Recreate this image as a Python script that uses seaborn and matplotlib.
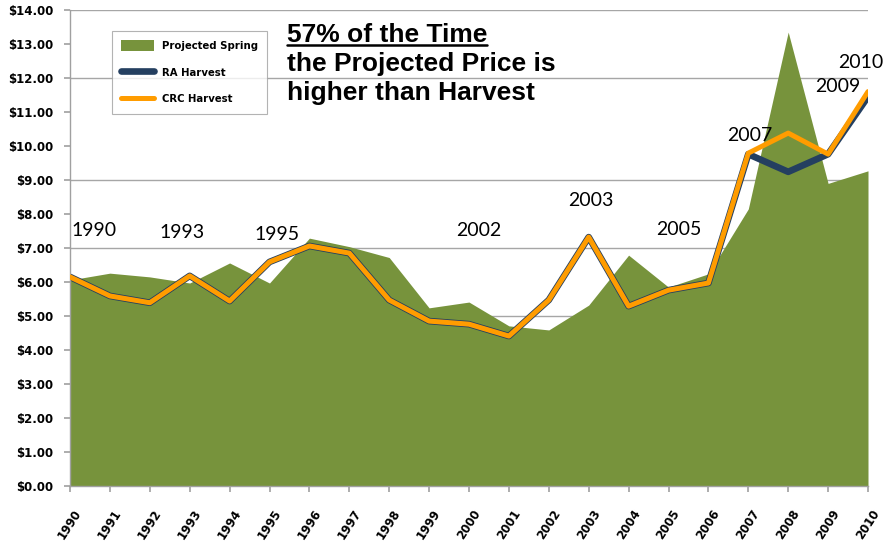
import numpy as np
import pandas as pd
import matplotlib.pyplot as plt
import seaborn as sns
from matplotlib.lines import Line2D

# valores (USD)
years = list(range(1990, 2011))
projected_spring = [6.06, 6.26, 6.15, 5.97, 6.56, 5.97, 7.29, 7.04, 6.72, 5.24, 5.41,
                    4.71, 4.59, 5.32, 6.79, 5.85, 6.24, 8.15, 13.35, 8.90, 9.27]
crc_harvest = [6.15, 5.59, 5.39, 6.18, 5.44, 6.59, 7.06, 6.85, 5.47, 4.85, 4.76,
               4.41, 5.47, 7.32, 5.29, 5.76, 5.97, 9.79, 10.38, 9.76, 11.60]
ra_harvest = [6.15, 5.59, 5.39, 6.18, 5.44, 6.59, 7.06, 6.85, 5.47, 4.85, 4.76,
              4.41, 5.47, 7.32, 5.29, 5.76, 5.97, 9.76, 9.24, 9.76, 11.45]

# etiquetas de anios sobre el grafico
year_labels = ['1990', '1993', '1995', '2002', '2003', '2005', '2007', '2009', '2010']
label_x = [1990.59, 1992.82, 1995.2, 2000.25, 2003.05, 2005.25, 2007.03, 2009.24, 2009.81]
label_y = [7.5, 7.47, 7.41, 7.5, 8.41, 7.53, 10.32, 11.74, 12.47]

grid_levels = [1, 3, 5, 7, 9, 12, 14]

df = pd.DataFrame({'Year': years, 'Projected Spring': projected_spring,
                   'RA Harvest': ra_harvest, 'CRC Harvest': crc_harvest})

sns.set_theme(style="white")
plt.rcParams['font.family'] = ['DejaVu Sans']
plt.rcParams['text.color'] = 'black'
plt.rcParams['xtick.color'] = 'black'
plt.rcParams['ytick.color'] = 'black'

fig = plt.figure(figsize=(8.91, 5.45), dpi=100)
ax = fig.add_axes([70 / 891, 59 / 545, 798 / 891, 476 / 545])

for g in grid_levels:
    ax.axhline(g, color='#A6A6A6', lw=1, zorder=0)

ax.fill_between(df['Year'], 0, df['Projected Spring'], color='#77933C', lw=0,
                label='Projected Spring', zorder=1)
sns.lineplot(data=df, x='Year', y='RA Harvest', ax=ax, color='#243F60', lw=4.8,
             label='RA Harvest', zorder=2)
sns.lineplot(data=df, x='Year', y='CRC Harvest', ax=ax, color='#FF9C00', lw=3.6,
             label='CRC Harvest', zorder=3)

ax.set_xlim(1990, 2010)
ax.set_ylim(0, 14)
ax.set_xticks(years)
ax.set_xticklabels([str(y) for y in years], rotation=57, ha='center',
                   fontsize=8.5, fontweight='bold')
ax.set_yticks(range(0, 15))
ax.set_yticklabels(['$%.2f' % v for v in range(0, 15)], fontsize=8.5, fontweight='bold')
ax.tick_params(axis='both', direction='out', length=4, width=1.2, color='#A0A0A0',
               labelcolor='black', left=True, bottom=True)
ax.tick_params(axis='y', pad=8)
ax.tick_params(axis='x', pad=11)
ax.set_xlabel('')
ax.set_ylabel('')
for s in ['top', 'right']:
    ax.spines[s].set_visible(False)
for s in ['left', 'bottom']:
    ax.spines[s].set_color('#A0A0A0')
    ax.spines[s].set_linewidth(1)

for t, x, y in zip(year_labels, label_x, label_y):
    ax.text(x, y, t, ha='center', va='center', fontsize=14, family='Lato',
            color='black', zorder=5)

leg = ax.legend(loc='upper left', bbox_to_anchor=(37 / 798, 1 - 16 / 476),
                labelspacing=1.6, handlelength=3.2, handleheight=1.2,
                borderpad=0.9, frameon=True, fancybox=False, edgecolor='#A0A0A0',
                prop={'weight': 'bold', 'size': 7.3})
leg.get_frame().set_linewidth(0.8)
for t in leg.get_texts():
    t.set_color('black')

# texto principal
lines = ['57% of the Time', 'the Projected Price is', 'higher than Harvest']
baselines = [42, 71, 100]
txts = []
for s, b in zip(lines, baselines):
    txts.append(fig.text(287 / 891, 1 - b / 545, s, ha='left', va='baseline',
                         fontsize=19, fontweight='bold', family='Liberation Sans',
                         color='black'))

# subrayado de la primera linea
fig.canvas.draw()
bb = txts[0].get_window_extent()
uy = 1 - (baselines[0] + 3) / 545
fig.add_artist(Line2D([bb.x0 / fig.bbox.width, bb.x1 / fig.bbox.width], [uy, uy],
                      transform=fig.transFigure, color='black', lw=1.8))

fig.savefig('out.png', dpi=100)
